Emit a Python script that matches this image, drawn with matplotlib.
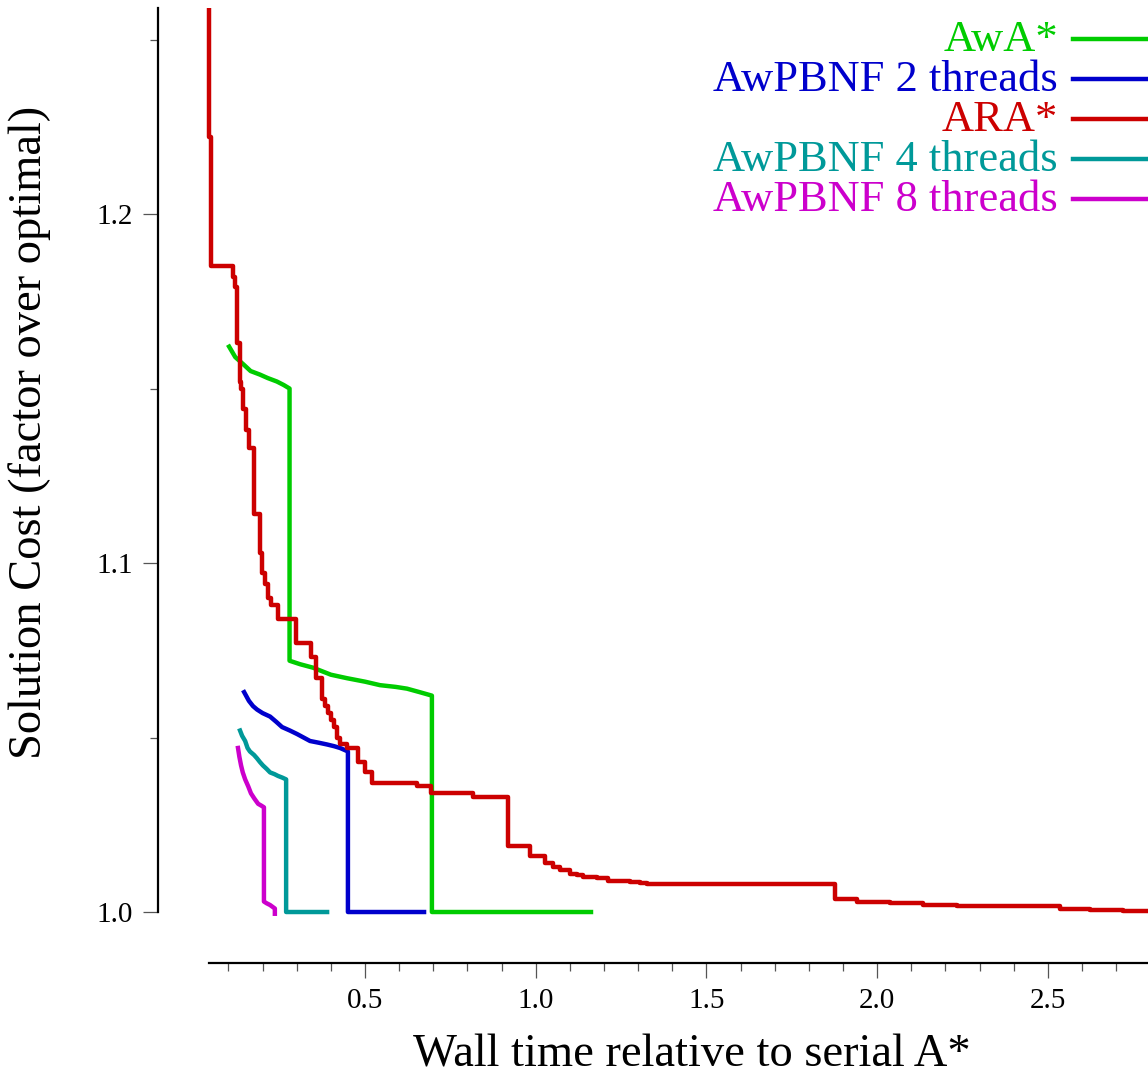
import matplotlib
matplotlib.use("Agg")
import matplotlib.pyplot as plt
from matplotlib.lines import Line2D
from matplotlib.ticker import FixedLocator, FormatStrFormatter

plt.rcParams['font.family'] = ['Liberation Serif', 'DejaVu Serif']

# ---- data (wall time relative to serial A*, solution cost factor) ----
ara_t = [0.043, 0.043, 0.049, 0.113, 0.119, 0.125, 0.134, 0.137, 0.143, 0.151,
         0.160, 0.175, 0.192, 0.198, 0.207, 0.216, 0.225, 0.245, 0.298, 0.342,
         0.356, 0.374, 0.383, 0.392, 0.400, 0.409, 0.418, 0.427, 0.447, 0.479,
         0.500, 0.521, 0.652, 0.693, 0.816, 0.919, 0.983, 1.027, 1.051, 1.071,
         1.100, 1.121, 1.139, 1.180, 1.212, 1.276, 1.305, 1.326, 1.877, 1.941,
         2.038, 2.134, 2.234, 2.331, 2.536, 2.624, 2.720, 2.850]
ara_c = [1.262, 1.222, 1.185, 1.182, 1.179, 1.163, 1.152, 1.150, 1.144, 1.138,
         1.133, 1.114, 1.103, 1.097, 1.094, 1.090, 1.088, 1.084, 1.077, 1.073,
         1.067, 1.061, 1.059, 1.057, 1.055, 1.053, 1.050, 1.048, 1.047, 1.043,
         1.040, 1.037, 1.036, 1.034, 1.033, 1.019, 1.016, 1.014, 1.013, 1.012,
         1.011, 1.0105, 1.010, 1.0097, 1.009, 1.0086, 1.0083, 1.0079, 1.0037, 1.003,
         1.0025, 1.0021, 1.0018, 1.0017, 1.0008, 1.0006, 1.0003, 1.0001]

awa_t = [0.102, 0.120, 0.143, 0.165, 0.192, 0.215, 0.242, 0.262, 0.279, 0.279,
         0.310, 0.348, 0.400, 0.447, 0.500, 0.544, 0.590, 0.623, 0.660, 0.696, 0.696, 1.162]
awa_c = [1.162, 1.159, 1.157, 1.155, 1.154, 1.153, 1.152, 1.151, 1.150, 1.072,
         1.071, 1.070, 1.068, 1.067, 1.066, 1.065, 1.0645, 1.064, 1.063, 1.062, 1.000, 1.000]

pb2_t = [0.146, 0.160, 0.172, 0.184, 0.200, 0.222, 0.240, 0.257, 0.280, 0.301,
         0.320, 0.339, 0.365, 0.389, 0.410, 0.427, 0.450, 0.450, 0.673]
pb2_c = [1.063, 1.0605, 1.059, 1.058, 1.057, 1.056, 1.0545, 1.053, 1.052, 1.051,
         1.050, 1.049, 1.0485, 1.048, 1.0475, 1.047, 1.046, 1.000, 1.000]

pb4_t = [0.134, 0.140, 0.149, 0.156, 0.163, 0.175, 0.184, 0.192, 0.201, 0.212,
         0.222, 0.235, 0.245, 0.258, 0.269, 0.269, 0.389]
pb4_c = [1.052, 1.0505, 1.049, 1.047, 1.046, 1.045, 1.044, 1.043, 1.042, 1.041,
         1.040, 1.0395, 1.039, 1.0385, 1.038, 1.000, 1.000]

pb8_t = [0.128, 0.132, 0.137, 0.142, 0.149, 0.158, 0.166, 0.176, 0.187, 0.196, 0.204,
         0.204, 0.212, 0.222, 0.236, 0.236]
pb8_c = [1.047, 1.0445, 1.042, 1.040, 1.038, 1.036, 1.034, 1.0325, 1.031, 1.0305, 1.030,
         1.003, 1.0025, 1.002, 1.001, 0.9995]

labels = ["AwA*", "AwPBNF 2 threads", "ARA*", "AwPBNF 4 threads", "AwPBNF 8 threads"]
colors = ["#00cc00", "#0000cc", "#cc0000", "#009999", "#cc00cc"]

x_major = [0.5, 1.0, 1.5, 2.0, 2.5]
x_minor = [0.1, 0.2, 0.3, 0.4, 0.6, 0.7, 0.8, 0.9, 1.1, 1.2, 1.3, 1.4, 1.6, 1.7,
           1.8, 1.9, 2.1, 2.2, 2.3, 2.4, 2.6, 2.7]
y_major = [1.0, 1.1, 1.2]
y_minor = [1.05, 1.15, 1.25]

# ---- figure ----
W, H = 1148, 1076
fig = plt.figure(figsize=(W / 100, H / 100), dpi=100)
ax = fig.add_axes([158 / W, (H - 963) / H, (W - 158) / W, (963 - 8) / H])

LW = 3.2
ax.plot(awa_t, awa_c, color=colors[0], lw=LW)
ax.plot(pb2_t, pb2_c, color=colors[1], lw=LW)
ax.plot(ara_t, ara_c, color=colors[2], lw=LW, drawstyle='steps-post')
ax.plot(pb4_t, pb4_c, color=colors[3], lw=LW)
ax.plot(pb8_t, pb8_c, color=colors[4], lw=LW)

ax.set_xlim(-0.1063, 2.7935)
ax.set_ylim(0.98539, 1.25903)

for s in ['top', 'right']:
    ax.spines[s].set_visible(False)
ax.spines['left'].set_bounds(1.0, 1.25903)
ax.spines['bottom'].set_bounds(0.043, 2.7935)
ax.spines['left'].set_linewidth(1.6)
ax.spines['bottom'].set_linewidth(1.6)

ax.xaxis.set_major_locator(FixedLocator(x_major))
ax.xaxis.set_minor_locator(FixedLocator(x_minor))
ax.yaxis.set_major_locator(FixedLocator(y_major))
ax.yaxis.set_minor_locator(FixedLocator(y_minor))
ax.xaxis.set_major_formatter(FormatStrFormatter('%.1f'))
ax.yaxis.set_major_formatter(FormatStrFormatter('%.1f'))

ax.tick_params(which='major', length=11, width=0.9, color='#555555',
               labelsize=21, pad=7)
ax.tick_params(which='minor', length=5.5, width=0.9, color='#555555')

ax.set_xlabel("Wall time relative to serial A*", fontsize=33.5)
ax.set_ylabel("Solution Cost (factor over optimal)", fontsize=33.5)
ax.xaxis.set_label_coords(0.539, -0.074)
ax.yaxis.set_label_coords(-0.108, 0.556)

# ---- legend (text right-aligned, line handle on the right) ----
line_y = [39, 79, 119, 159, 199]
for lab, col, ly in zip(labels, colors, line_y):
    fig.text(1058 / W, 1 - (ly + 1) / H, lab, color=col, fontsize=32,
             ha='right', va='center')
    fig.add_artist(Line2D([1073 / W, 1160 / W], [1 - ly / H, 1 - ly / H],
                          color=col, lw=LW, transform=fig.transFigure))

fig.savefig("out.png", dpi=100)
